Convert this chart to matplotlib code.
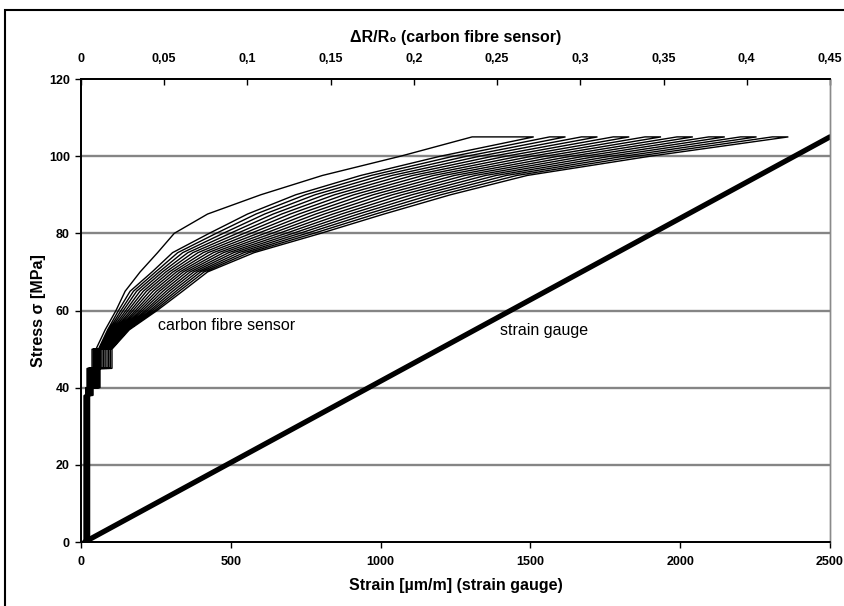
import numpy as np
import matplotlib.pyplot as plt
from matplotlib.patches import Rectangle
from matplotlib.ticker import FuncFormatter

stress_levels = [0, 38, 40, 45, 50, 55, 60, 65, 70, 75, 80, 85, 90, 95, 100, 105]

# first loading of the carbon fibre sensor (outer curve), dR/R0
first_load = [0.002, 0.003, 0.0036, 0.0066, 0.009, 0.0145, 0.021, 0.0265,
              0.0355, 0.046, 0.056, 0.076, 0.108, 0.145, 0.192, 0.235]

# following half cycles (alternating unload / load), dR/R0 at each stress level
dr_0 = [0.003, 0.002, 0.004, 0.003, 0.002, 0.004, 0.003, 0.005, 0.002,
        0.004, 0.003, 0.005, 0.003, 0.004, 0.002, 0.005, 0.004]
dr_38 = [0.003, 0.003, 0.004, 0.004, 0.003, 0.004, 0.004, 0.005, 0.004,
         0.005, 0.004, 0.005, 0.005, 0.005, 0.004, 0.005, 0.005]
dr_40 = [0.0040, 0.0042, 0.0044, 0.0046, 0.0048, 0.0050, 0.0052, 0.0054, 0.0056,
         0.0058, 0.0060, 0.0062, 0.0064, 0.0066, 0.0068, 0.0070, 0.0072]
dr_45 = [0.0072, 0.0075, 0.0077, 0.0080, 0.0082, 0.0085, 0.0088, 0.0090, 0.0093,
         0.0096, 0.0098, 0.0101, 0.0103, 0.0106, 0.0109, 0.0111, 0.0114]
dr_50 = [0.0105, 0.0110, 0.0115, 0.0120, 0.0125, 0.0130, 0.0135, 0.0140, 0.0145,
         0.0150, 0.0156, 0.0161, 0.0166, 0.0171, 0.0176, 0.0181, 0.0186]
dr_55 = [0.0160, 0.0168, 0.0176, 0.0184, 0.0193, 0.0201, 0.0209, 0.0217, 0.0225,
         0.0233, 0.0241, 0.0249, 0.0258, 0.0266, 0.0274, 0.0282, 0.0290]
dr_60 = [0.0225, 0.0240, 0.0254, 0.0269, 0.0283, 0.0298, 0.0312, 0.0327, 0.0341,
         0.0356, 0.0370, 0.0385, 0.0399, 0.0414, 0.0428, 0.0443, 0.0457]
dr_65 = [0.0295, 0.0315, 0.0334, 0.0354, 0.0374, 0.0393, 0.0413, 0.0433, 0.0453,
         0.0472, 0.0492, 0.0512, 0.0531, 0.0551, 0.0571, 0.0590, 0.0610]
dr_70 = [0.0427, 0.0448, 0.0469, 0.0489, 0.0510, 0.0531, 0.0552, 0.0573, 0.0594,
         0.0614, 0.0635, 0.0656, 0.0677, 0.0698, 0.0718, 0.0739, 0.0760]
dr_75 = [0.0550, 0.0581, 0.0611, 0.0642, 0.0672, 0.0703, 0.0734, 0.0764, 0.0795,
         0.0826, 0.0856, 0.0887, 0.0917, 0.0948, 0.0979, 0.1009, 0.1040]
dr_80 = [0.0770, 0.0812, 0.0854, 0.0896, 0.0938, 0.0979, 0.1021, 0.1063, 0.1105,
         0.1147, 0.1189, 0.1231, 0.1273, 0.1314, 0.1356, 0.1398, 0.1440]
dr_85 = [0.1000, 0.1051, 0.1103, 0.1154, 0.1205, 0.1256, 0.1308, 0.1359, 0.1410,
         0.1461, 0.1513, 0.1564, 0.1615, 0.1666, 0.1718, 0.1769, 0.1820]
dr_90 = [0.1290, 0.1348, 0.1406, 0.1464, 0.1523, 0.1581, 0.1639, 0.1697, 0.1755,
         0.1813, 0.1871, 0.1929, 0.1988, 0.2046, 0.2104, 0.2162, 0.2220]
dr_95 = [0.1680, 0.1743, 0.1805, 0.1868, 0.1930, 0.1993, 0.2055, 0.2118, 0.2180,
         0.2243, 0.2305, 0.2368, 0.2430, 0.2493, 0.2555, 0.2618, 0.2680]
dr_100 = [0.2160, 0.2239, 0.2318, 0.2396, 0.2475, 0.2554, 0.2633, 0.2711, 0.2790,
          0.2869, 0.2948, 0.3026, 0.3105, 0.3184, 0.3263, 0.3341, 0.3420]
dr_105 = [0.2720, 0.2816, 0.2911, 0.3007, 0.3103, 0.3198, 0.3294, 0.3389, 0.3485,
          0.3581, 0.3676, 0.3772, 0.3868, 0.3963, 0.4059, 0.4154, 0.4250]

# strain gauge (bottom axis)
gauge_strain = [12, 2500]
gauge_stress = [0, 105]

bundle = np.column_stack([dr_0, dr_38, dr_40, dr_45, dr_50, dr_55, dr_60, dr_65,
                          dr_70, dr_75, dr_80, dr_85, dr_90, dr_95, dr_100, dr_105])
rows = [np.array(first_load)] + list(bundle)
levels = np.array(stress_levels, dtype=float)
n_step = 5  # stair-stepped part up to 50 MPa


def stair(x, y, vertical_first):
    xs, ys = [x[0]], [y[0]]
    for j in range(1, n_step):
        if vertical_first:
            xs += [x[j - 1], x[j]]
            ys += [y[j], y[j]]
        else:
            xs += [x[j], x[j]]
            ys += [y[j - 1], y[j]]
    xs += list(x[n_step:])
    ys += list(y[n_step:])
    return np.array(xs), np.array(ys)


path_x, path_y = [], []
for i, r in enumerate(rows):
    sx, sy = stair(r, levels, i % 2 == 0)
    if i % 2 == 1:
        sx, sy = sx[::-1], sy[::-1]
    path_x.append(sx)
    path_y.append(sy)
path_x = np.concatenate(path_x)
path_y = np.concatenate(path_y)

tick_font = ['Liberation Sans Narrow', 'Liberation Sans', 'DejaVu Sans']
lab_font = ['Liberation Sans', 'DejaVu Sans']

fig = plt.figure(figsize=(8.45, 6.06), dpi=100)
ax = fig.add_axes([0.0959, 0.1056, 0.8863, 0.764])
ax2 = ax.twiny()

ax.set_xlim(0, 2500)
ax.set_ylim(0, 120)
ax2.set_xlim(0, 0.45)

for yv in [20, 40, 60, 80, 100]:
    ax.axhline(yv, color='#858585', lw=1.7, zorder=0)

ax.plot(gauge_strain, gauge_stress, color='black', lw=3.8, solid_capstyle='round')
ax2.plot(path_x, path_y, color='black', lw=1.0, solid_joinstyle='miter')

ax.text(257, 56, 'carbon fibre sensor', fontsize=11.5, family=lab_font, va='center')
ax.text(1399, 54.7, 'strain gauge', fontsize=11.5, family=lab_font, va='center')

ax.set_xticks([0, 500, 1000, 1500, 2000, 2500])
ax.set_yticks([0, 20, 40, 60, 80, 100, 120])
ax2.set_xticks([0, 0.05, 0.1, 0.15, 0.2, 0.25, 0.3, 0.35, 0.4, 0.45])
ax2.xaxis.set_major_formatter(FuncFormatter(lambda v, p: ('%g' % round(v, 2)).replace('.', ',')))

ax.tick_params(axis='x', direction='out', length=4, width=1, pad=6)
ax.tick_params(axis='y', direction='out', length=4, width=1, pad=4)
ax2.tick_params(axis='x', direction='in', length=4, width=1, pad=10)
for lab in ax.get_xticklabels() + ax.get_yticklabels() + ax2.get_xticklabels():
    lab.set_family(tick_font)
    lab.set_fontsize(9)
    lab.set_fontweight('bold')

for a in (ax, ax2):
    for s in ('left', 'bottom', 'top'):
        a.spines[s].set_linewidth(1.3)
        a.spines[s].set_color('black')
    a.spines['right'].set_color('#8a8a8a')
    a.spines['right'].set_linewidth(1.0)

ax.set_xlabel('Strain [µm/m] (strain gauge)', fontsize=11.5, fontweight='bold',
              family=lab_font, labelpad=7)
ax.set_ylabel('Stress σ [MPa]', fontsize=11.5, fontweight='bold', family=lab_font, labelpad=2)
ax2.set_xlabel('ΔR/R₀ (carbon fibre sensor)', fontsize=11.5, fontweight='bold',
               family=lab_font, labelpad=8)

fig.patches.append(Rectangle((5 / 845, -0.05), 1.1, 1.05 - 10 / 606, fill=False,
                             edgecolor='black', lw=1.5, transform=fig.transFigure))

plt.savefig('out.png', dpi=100)
